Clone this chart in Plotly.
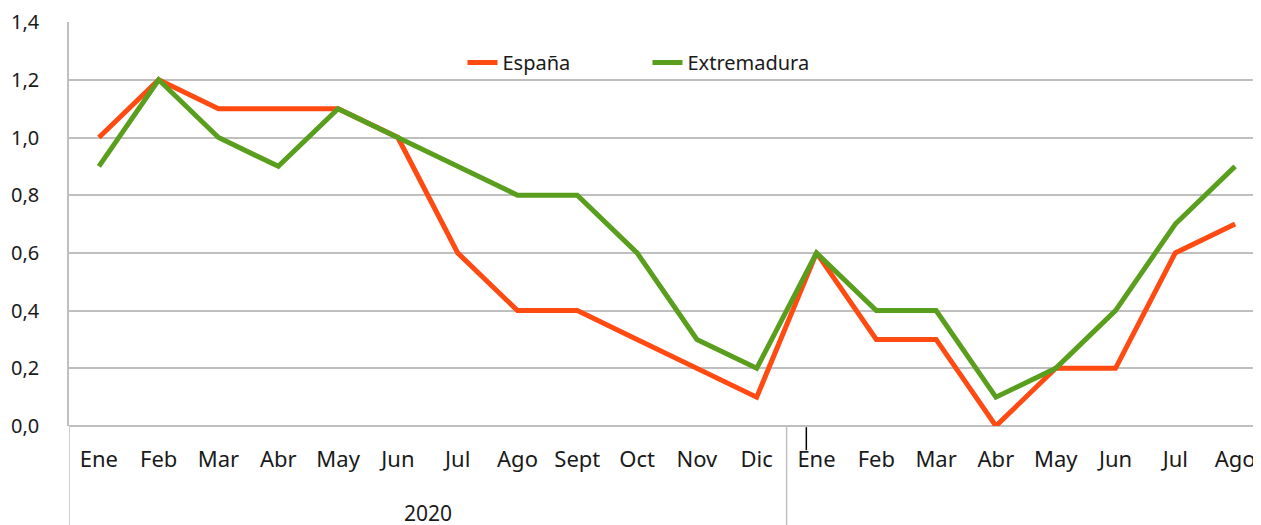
import plotly.graph_objects as go

months = ["Ene", "Feb", "Mar", "Abr", "May", "Jun", "Jul", "Ago", "Sept", "Oct", "Nov", "Dic",
          "Ene", "Feb", "Mar", "Abr", "May", "Jun", "Jul", "Ago"]
year_label = "2020"
espana = [1.0, 1.2, 1.1, 1.1, 1.1, 1.0, 0.6, 0.4, 0.4, 0.3, 0.2, 0.1,
          0.6, 0.3, 0.3, 0.0, 0.2, 0.2, 0.6, 0.7]
extremadura = [0.9, 1.2, 1.0, 0.9, 1.1, 1.0, 0.9, 0.8, 0.8, 0.6, 0.3, 0.2,
               0.6, 0.4, 0.4, 0.1, 0.2, 0.4, 0.7, 0.9]
y_ticks = [0.0, 0.2, 0.4, 0.6, 0.8, 1.0, 1.2, 1.4]

x = list(range(len(months)))
FONT = "Noto Sans"
GRID = "#BFBFBF"

fig = go.Figure()
fig.add_trace(go.Scatter(x=x, y=espana, name="España", mode="lines",
                         line=dict(color="#FF4A12", width=5)))
fig.add_trace(go.Scatter(x=x, y=extremadura, name="Extremadura", mode="lines",
                         line=dict(color="#5A9E1E", width=5)))

PLOT_H = 404
fig.update_layout(
    width=1261, height=525,
    margin=dict(l=61, r=4, t=14, b=107, autoexpand=False),
    plot_bgcolor="white", paper_bgcolor="white",
    separators=", ",
    font=dict(family=FONT, size=20, color="#1a1a1a"),
    legend=dict(orientation="h", x=0.329, y=0.90, xanchor="left", yanchor="middle",
                font=dict(size=20), bgcolor="rgba(0,0,0,0)", entrywidth=140,
                entrywidthmode="pixels"),
    showlegend=True,
)
fig.update_xaxes(range=[-0.5, 19.5], tickvals=x, ticktext=months, showgrid=False,
                 zeroline=False, showline=False, ticks="", ticklabelstandoff=18,
                 tickfont=dict(size=22), automargin=False, ticklabeloverflow="allow")
fig.update_yaxes(range=[0, 1.4004], tickvals=y_ticks, tickformat=".1f", showgrid=True,
                 gridcolor=GRID, gridwidth=1.5, zeroline=True, zerolinecolor=GRID,
                 zerolinewidth=1.5, showline=True, linecolor=GRID, linewidth=1.5,
                 ticks="", ticklabelstandoff=24, tickfont=dict(size=20), automargin=False,
                 ticklabeloverflow="allow")

bottom = -107 / PLOT_H
# group separators
for xs in [-0.5, 11.5]:
    fig.add_shape(type="line", xref="x", yref="paper", x0=xs, x1=xs, y0=0, y1=bottom,
                  line=dict(color=GRID, width=1.5))
# small tick artifact
fig.add_shape(type="line", xref="x", yref="paper", x0=11.83, x1=11.83, y0=-0.003, y1=-0.06,
              line=dict(color="black", width=1.5))
fig.add_annotation(text=year_label, xref="x", yref="paper", x=5.5, y=-87 / PLOT_H,
                   yanchor="middle", showarrow=False, font=dict(size=21))

fig.write_html("out.html")
